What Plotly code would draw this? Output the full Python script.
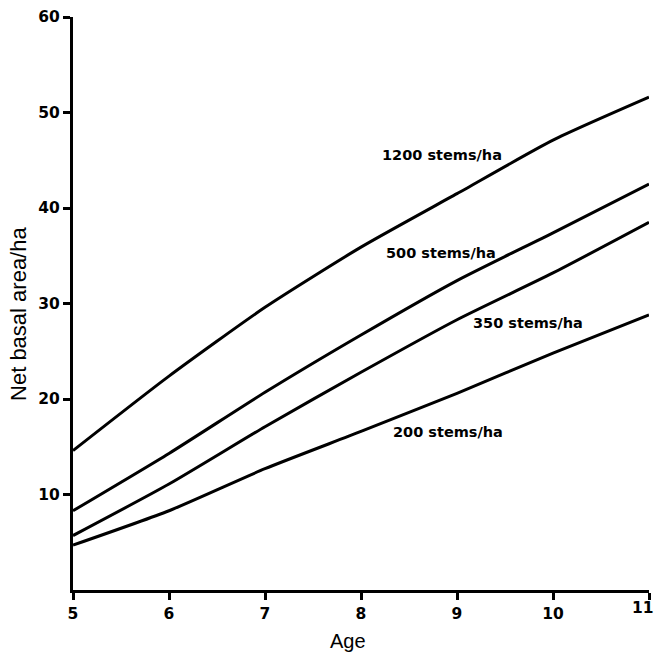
import plotly.graph_objects as go

ages = [5, 6, 7, 8, 9, 10, 11]
age_labels = ["5", "6", "7", "8", "9", "10", "11"]
s1200 = [14.6, 22.4, 29.6, 35.9, 41.5, 47.1, 51.6]
s500 = [8.3, 14.3, 20.7, 26.7, 32.4, 37.4, 42.5]
s350 = [5.7, 11.1, 17.1, 22.8, 28.3, 33.2, 38.5]
s200 = [4.7, 8.3, 12.7, 16.6, 20.6, 24.8, 28.8]
y_ticks = [10, 20, 30, 40, 50, 60]

series = [("1200 stems/ha", s1200), ("500 stems/ha", s500),
          ("350 stems/ha", s350), ("200 stems/ha", s200)]
label_pos = [(8.84, 45.5), (8.83, 35.3), (9.74, 28.0), (8.91, 16.5)]

fig = go.Figure()
for name, vals in series:
    fig.add_trace(go.Scatter(x=ages, y=vals, mode="lines", name=name,
                             line=dict(color="black", width=3, shape="spline", smoothing=0.6)))

for (name, _), (lx, ly) in zip(series, label_pos):
    fig.add_annotation(x=lx, y=ly, text="<b>%s</b>" % name, showarrow=False,
                       font=dict(family="DejaVu Sans", size=14.5, color="black"))

tickfont = dict(family="DejaVu Sans", size=15.5, color="black", weight="bold")

# last x tick label drawn as annotation, pinned to the right edge of the figure
fig.add_annotation(xref="paper", x=1 + 8 / 576, xanchor="right", xshift=-1,
                   yref="paper", y=-18 / 575, yanchor="middle",
                   text="<b>%s</b>" % age_labels[-1], showarrow=False,
                   font=dict(family="DejaVu Sans", size=15.5, color="black"))

fig.add_annotation(xref="paper", yref="paper", x=(347.5 - 73) / 576, y=-51 / 575,
                   text="Age", showarrow=False, yanchor="middle",
                   font=dict(family="Liberation Sans", size=20, color="black"))
fig.add_annotation(xref="paper", yref="paper", x=-54 / 576, y=(590 - 313) / 575,
                   text="Net basal area/ha", showarrow=False, textangle=-90,
                   xanchor="center", yanchor="middle",
                   font=dict(family="Liberation Sans", size=22, color="black"))

fig.update_layout(
    width=657, height=654,
    margin=dict(l=73, r=8, t=15, b=64),
    paper_bgcolor="white", plot_bgcolor="white",
    showlegend=False,
    xaxis=dict(range=[5, 11], tickvals=ages, ticktext=age_labels[:-1] + [""],
               showgrid=False, zeroline=False, showline=True, linecolor="black", linewidth=3,
               ticks="outside", ticklen=7, tickwidth=3, tickcolor="black", tickfont=tickfont),
    yaxis=dict(range=[0, 60], tickvals=y_ticks,
               showgrid=False, zeroline=False, showline=True, linecolor="black", linewidth=3,
               ticks="outside", ticklen=7, tickwidth=3, tickcolor="black", tickfont=tickfont),
)

fig.write_html("out.html", config={"displayModeBar": False},
               post_script="document.body.style.margin='0';")
